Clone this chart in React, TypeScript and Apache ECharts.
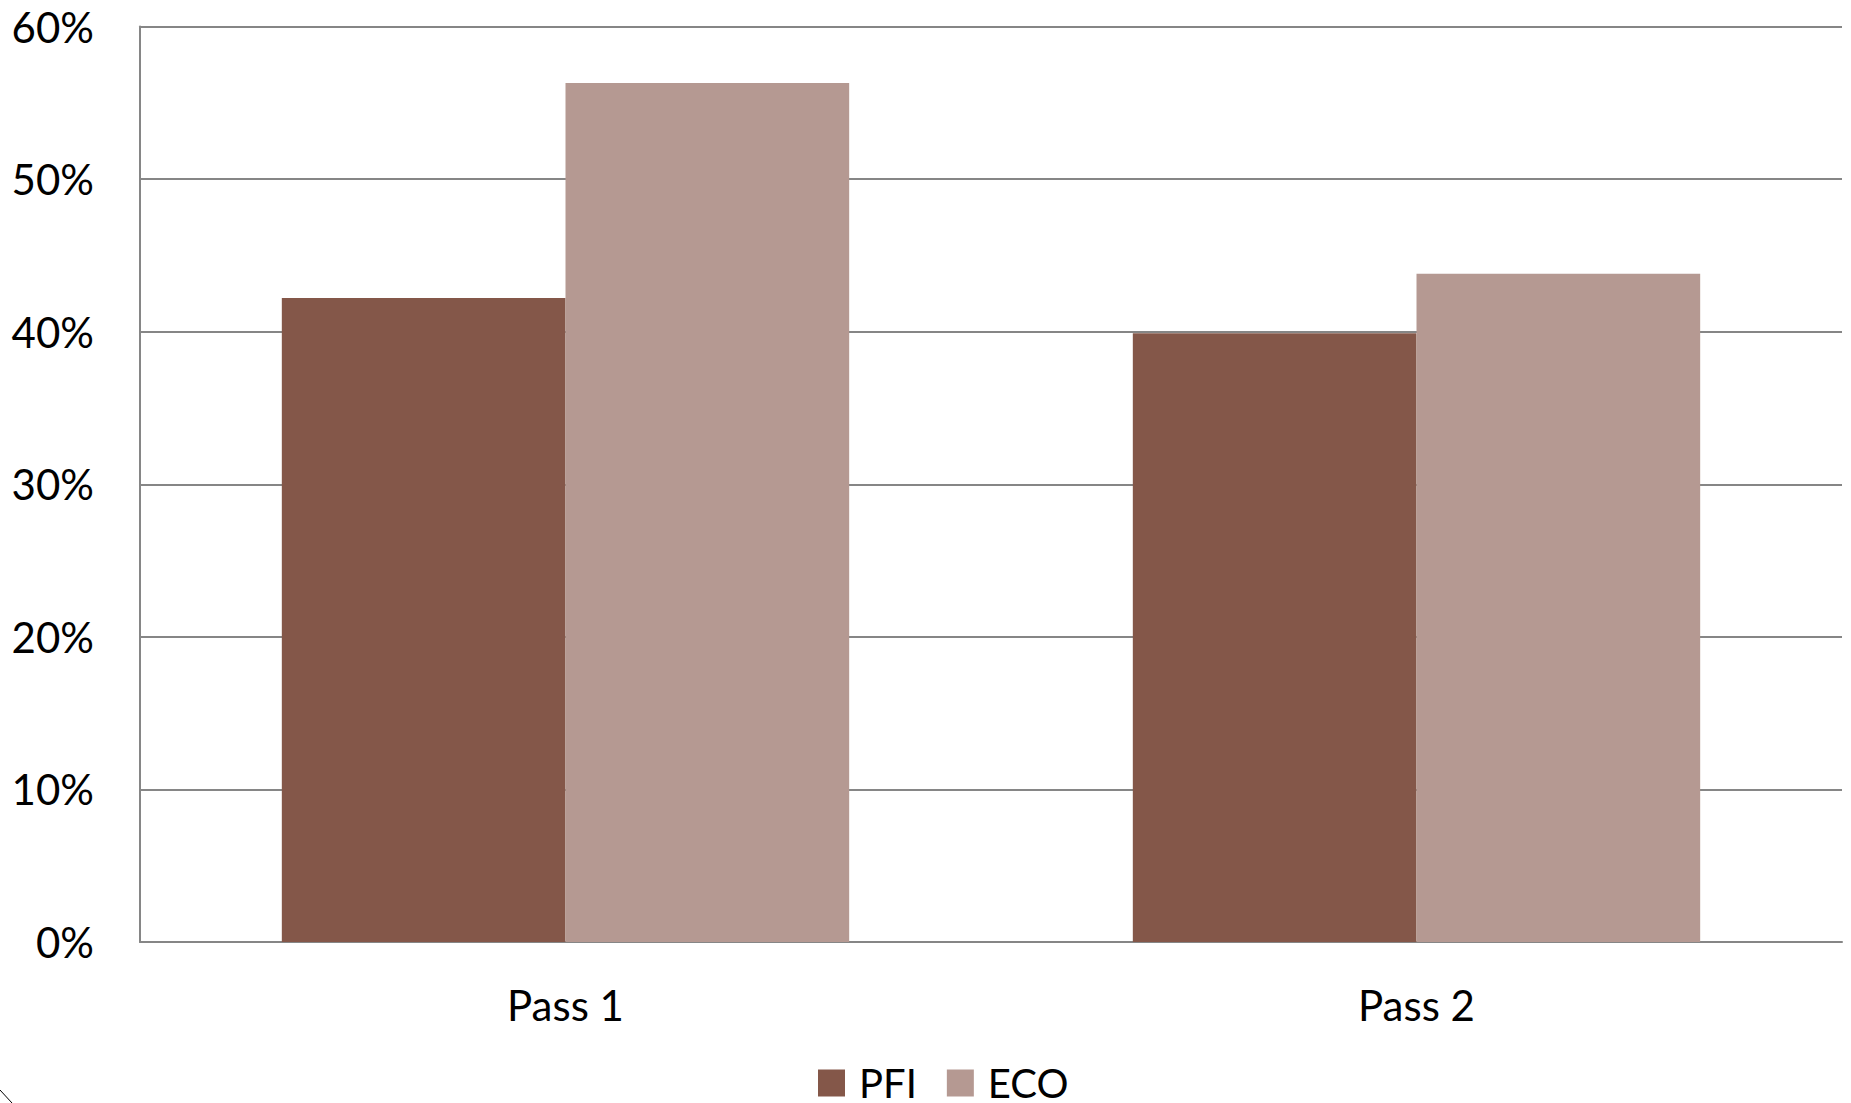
import React, { useEffect, useRef } from "react";
import * as echarts from "echarts";

const categories = ["Pass 1", "Pass 2"];
const pfiValues = [42.2, 39.9];
const ecoValues = [56.3, 43.8];
const seriesNames = ["PFI", "ECO"];
const yTicks = { min: 0, max: 60, interval: 10 };

const FONT = "Lato, 'Open Sans', sans-serif";

export default function App() {
  const ref = useRef<HTMLDivElement>(null);
  useEffect(() => {
    if (!ref.current) return;
    const chart = echarts.init(ref.current, undefined, { renderer: "svg" });
    chart.setOption({
      animation: false,
      backgroundColor: "#ffffff",
      grid: { left: 140, right: 9, top: 26.5, bottom: 161, containLabel: false },
      legend: {
        data: seriesNames,
        left: 818,
        top: 1063,
        padding: 0,
        itemWidth: 27,
        itemHeight: 27,
        itemGap: 30,
        icon: "rect",
        textStyle: {
          fontFamily: FONT,
          fontSize: 40,
          lineHeight: 28,
          color: "#000",
          padding: [0, 0, 0, 9],
        },
      },
      xAxis: {
        type: "category",
        data: categories,
        axisLine: { show: true, lineStyle: { color: "#868686", width: 2 } },
        axisTick: { show: false },
        axisLabel: {
          fontFamily: FONT,
          fontSize: 42,
          color: "#000",
          margin: 42,
        },
        splitLine: { show: false },
      },
      yAxis: {
        type: "value",
        min: yTicks.min,
        max: yTicks.max,
        interval: yTicks.interval,
        axisLine: { show: true, lineStyle: { color: "#868686", width: 2 } },
        axisTick: { show: false },
        axisLabel: {
          fontFamily: FONT,
          fontSize: 42,
          color: "#000",
          margin: 46,
          formatter: "{value}%",
        },
        splitLine: { show: true, lineStyle: { color: "#868686", width: 2 } },
      },
      series: [
        {
          name: seriesNames[0],
          type: "bar",
          data: pfiValues,
          barGap: "0%",
          barCategoryGap: "33.33%",
          itemStyle: { color: "#845749" },
        },
        {
          name: seriesNames[1],
          type: "bar",
          data: ecoValues,
          barGap: "0%",
          barCategoryGap: "33.33%",
          itemStyle: { color: "#B59992" },
        },
      ],
      graphic: [
        {
          type: "line",
          shape: { x1: 0, y1: 1090, x2: 12, y2: 1103 },
          style: { stroke: "#000", lineWidth: 1 },
          silent: true,
        },
      ],
    });
    return () => chart.dispose();
  }, []);
  return (
    <div
      ref={ref}
      style={{ position: "absolute", left: 0, top: 0, width: 1851, height: 1103 }}
    />
  );
}
